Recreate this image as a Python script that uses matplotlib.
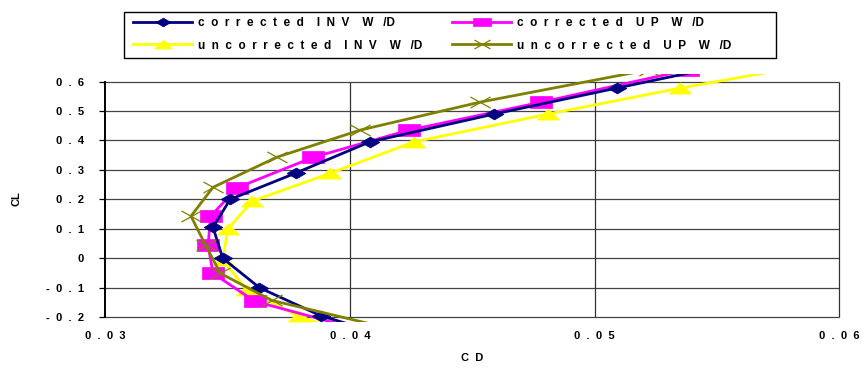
import matplotlib
matplotlib.use("Agg")
import matplotlib.pyplot as plt
from matplotlib.path import Path
from matplotlib.patches import Rectangle

# CL / CD polar data (points past the frame keep the lines running out of it)
cl_inv = [-0.25, -0.195, -0.10, 0.0, 0.105, 0.20, 0.29, 0.395, 0.49, 0.578, 0.67]
cd_inv_corr = [0.0410, 0.0388, 0.0363, 0.0348, 0.0344, 0.0351, 0.0378, 0.0408, 0.0459, 0.0509, 0.0562]

cl_up = [-0.24, -0.146, -0.051, 0.044, 0.143, 0.24, 0.343, 0.435, 0.53, 0.64]
cd_up_corr = [0.0403, 0.0361, 0.0344, 0.0342, 0.0343, 0.0354, 0.0385, 0.0424, 0.0478, 0.0538]

cl_inv_unc = [-0.26, -0.197, -0.109, -0.007, 0.099, 0.194, 0.289, 0.395, 0.49, 0.578, 0.66]
cd_inv_unc = [0.0402, 0.0379, 0.0358, 0.0348, 0.0350, 0.0360, 0.0392, 0.0426, 0.0481, 0.0535, 0.0590]

cl_up_unc = [-0.24, -0.143, -0.051, 0.044, 0.143, 0.241, 0.343, 0.435, 0.53, 0.64]
cd_up_unc = [0.0417, 0.0368, 0.0347, 0.0341, 0.0335, 0.0344, 0.0370, 0.0404, 0.0453, 0.0522]

labels = ["c  o  r  r  e  c  t  e  d    I  N  V    W   /D",
          "c  o  r  r  e  c  t  e  d    U  P    W   /D",
          "u  n  c  o  r  r  e  c  t  e  d    I  N  V    W   /D",
          "u  n  c  o  r  r  e  c  t  e  d    U  P    W   /D"]

yticks = [-0.2, -0.1, 0.0, 0.1, 0.2, 0.3, 0.4, 0.5, 0.6]
ytick_labels = ["-  0  .  2", "-  0  .  1", "0", "0  .  1", "0  .  2", "0  .  3", "0  .  4", "0  .  5", "0  .  6"]
xticks = [0.03, 0.04, 0.05, 0.06]
xtick_labels = ["0  .  0  3", "0  .  0  4", "0  .  0  5", "0  .  0  6"]

plt.rcParams['font.family'] = ['Liberation Sans', 'DejaVu Sans']
plt.rcParams['font.weight'] = 'bold'

# the chart was stretched sideways, so the markers are wider than tall
diamond = Path([(-1, 0), (0, 0.58), (1, 0), (0, -0.58), (-1, 0)])
square = Path([(-1, -0.52), (1, -0.52), (1, 0.52), (-1, 0.52), (-1, -0.52)])
triangle = Path([(-1, -0.5), (1, -0.5), (0, 0.5), (-1, -0.5)])
cross = Path([(-1, -0.55), (1, 0.55), (-1, 0.55), (1, -0.55)],
             [Path.MOVETO, Path.LINETO, Path.MOVETO, Path.LINETO])

fig = plt.figure(figsize=(8.62, 3.69), dpi=100)
ax = fig.add_axes([0.1222, 0.1285, 0.8572, 0.6703])

# grid
ax.hlines(yticks, 0.03, 0.06, color='#444444', lw=0.9, zorder=1)
ax.vlines(xticks[1:], -0.2, 0.6, color='#333333', lw=0.9, zorder=1)

h1, = ax.plot(cd_inv_corr, cl_inv, color='#000080', lw=2, marker=diamond, ms=13.5, mew=0.5, zorder=4)
h2, = ax.plot(cd_up_corr, cl_up, color='#FF00FF', lw=2, marker=square, ms=15.5, mew=0.5, zorder=3)
h3, = ax.plot(cd_inv_unc, cl_inv_unc, color='#FFFF00', lw=2, marker=triangle, ms=16, mew=0.5, zorder=2)
h4, = ax.plot(cd_up_unc, cl_up_unc, color='#808000', lw=2, marker=cross, ms=14.5, mew=0.9, zorder=5)

ax.set_xlim(0.03, 0.0602)
ax.set_ylim(-0.215, 0.625)
for s in ['top', 'right', 'bottom']:
    ax.spines[s].set_visible(False)
ax.spines['left'].set_bounds(-0.2, 0.6)
ax.spines['left'].set_linewidth(1.4)
ax.set_yticks(yticks)
ax.set_yticklabels(ytick_labels, fontsize=8, fontweight='bold')
ax.tick_params(axis='y', length=4.3, width=0.9, pad=11)
ax.set_xticks(xticks)
ax.set_xticklabels(xtick_labels, fontsize=8, fontweight='bold')
ax.tick_params(axis='x', length=0, pad=6.5)

fig.text(0.019, 0.463, "CL", rotation=90, fontsize=8, fontweight='bold', ha='center', va='center')
fig.text(0.548, 0.03, "C  D", fontsize=8, fontweight='bold', ha='center', va='center')

# legend: box drawn separately, entries in two single-column legends
fig.patches.append(Rectangle((124 / 862, 1 - 58 / 369), 652 / 862, 46 / 369,
                             transform=fig.transFigure, fill=False,
                             edgecolor='black', lw=1))
for handles, labs, x0 in [([h1, h3], [labels[0], labels[2]], 133 / 862),
                          ([h2, h4], [labels[1], labels[3]], 452 / 862)]:
    lg = fig.legend(handles, labs, loc='upper left', bbox_to_anchor=(x0, 1 - 17 / 369),
                    fontsize=8.5, frameon=False, handlelength=5.0, handletextpad=0.5,
                    borderpad=0, borderaxespad=0, labelspacing=0.9, markerscale=0.8)
    for t in lg.get_texts():
        t.set_fontweight('bold')

fig.savefig("out.png", dpi=100)
